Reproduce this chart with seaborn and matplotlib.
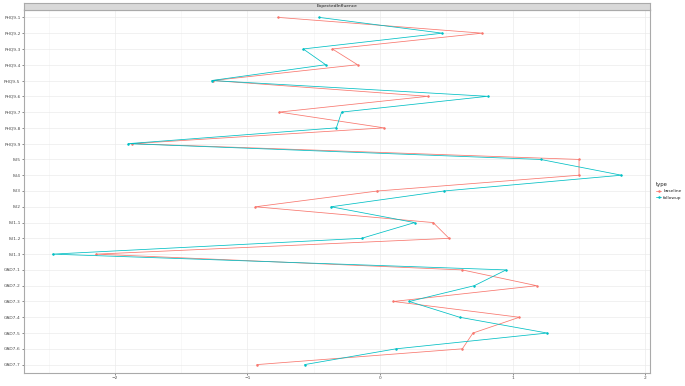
import pandas as pd
import seaborn as sns
import matplotlib.pyplot as plt

# items (top -> bottom) et valeurs
items = ["PHQ9-1", "PHQ9-2", "PHQ9-3", "PHQ9-4", "PHQ9-5", "PHQ9-6", "PHQ9-7", "PHQ9-8", "PHQ9-9",
         "ISI5", "ISI4", "ISI3", "ISI2", "ISI1-1", "ISI1-2", "ISI1-3",
         "GAD7-1", "GAD7-2", "GAD7-3", "GAD7-4", "GAD7-5", "GAD7-6", "GAD7-7"]
baseline = [-0.77, 0.77, -0.36, -0.17, -1.26, 0.36, -0.76, 0.03, -1.87,
            1.50, 1.50, -0.02, -0.94, 0.40, 0.52, -2.14,
            0.62, 1.18, 0.10, 1.05, 0.70, 0.62, -0.93]
followup = [-0.46, 0.47, -0.58, -0.41, -1.27, 0.81, -0.29, -0.33, -1.90,
            1.21, 1.82, 0.48, -0.37, 0.26, -0.14, -2.47,
            0.95, 0.71, 0.22, 0.60, 1.26, 0.12, -0.57]
types = ["baseline", "followup"]
colors = ["#F8766D", "#00BFC4"]

df = pd.DataFrame({
    "item": items * 2,
    "value": baseline + followup,
    "type": [types[0]] * len(items) + [types[1]] * len(items),
})

sns.set_theme(style="white")
plt.rcParams["font.family"] = ["DejaVu Sans"]

W, H = 685, 386
fig = plt.figure(figsize=(W / 100, H / 100), dpi=100)
ax = fig.add_axes([24 / W, 1 - 372.5 / H, (650 - 24) / W, (372.5 - 9.5) / H])

sns.pointplot(data=df, x="value", y="item", hue="type", order=items, hue_order=types,
              palette=colors, orient="h", errorbar=None, dodge=False,
              markers="o", markersize=1.3, linewidth=0.55, ax=ax)

ax.set_xlim(-2.685, 2.035)
ax.set_xticks([-2, -1, 0, 1, 2])
ax.set_xticks([-2.5, -1.5, -0.5, 0.5, 1.5], minor=True)
ax.set_xlabel("")
ax.set_ylabel("")
ax.grid(True, which="major", color="#EBEBEB", linewidth=0.5)
ax.grid(True, which="minor", axis="x", color="#F4F4F4", linewidth=0.4)
ax.set_axisbelow(True)
ax.tick_params(axis="both", which="major", labelsize=3.2, labelcolor="#4D4D4D",
               length=1.5, width=0.4, color="#333333", pad=1, bottom=True, left=True)
ax.tick_params(axis="x", which="minor", length=0)
for s in ax.spines.values():
    s.set_color("#AAAAAA")
    s.set_linewidth(0.8)

# bandeau du facet
strip = fig.add_axes([24 / W, 1 - 9.5 / H, (650 - 24) / W, 6.5 / H])
strip.set_facecolor("#D9D9D9")
strip.set_xticks([])
strip.set_yticks([])
for s in strip.spines.values():
    s.set_color("#AAAAAA")
    s.set_linewidth(0.8)
strip.text(0.5, 0.5, "ExpectedInfluence", ha="center", va="center", fontsize=3.2, color="#1A1A1A")

# légende
handles, labels = ax.get_legend_handles_labels()
ax.get_legend().remove()
leg = fig.legend(handles, labels, title="type", loc="upper left",
                 bbox_to_anchor=(653 / W, 1 - 179 / H), frameon=False,
                 fontsize=3.2, title_fontsize=3.8, handlelength=1.2,
                 labelspacing=0.5, handletextpad=0.4, borderpad=0.2)
leg._legend_box.align = "left"

fig.savefig("out.png", dpi=100)
